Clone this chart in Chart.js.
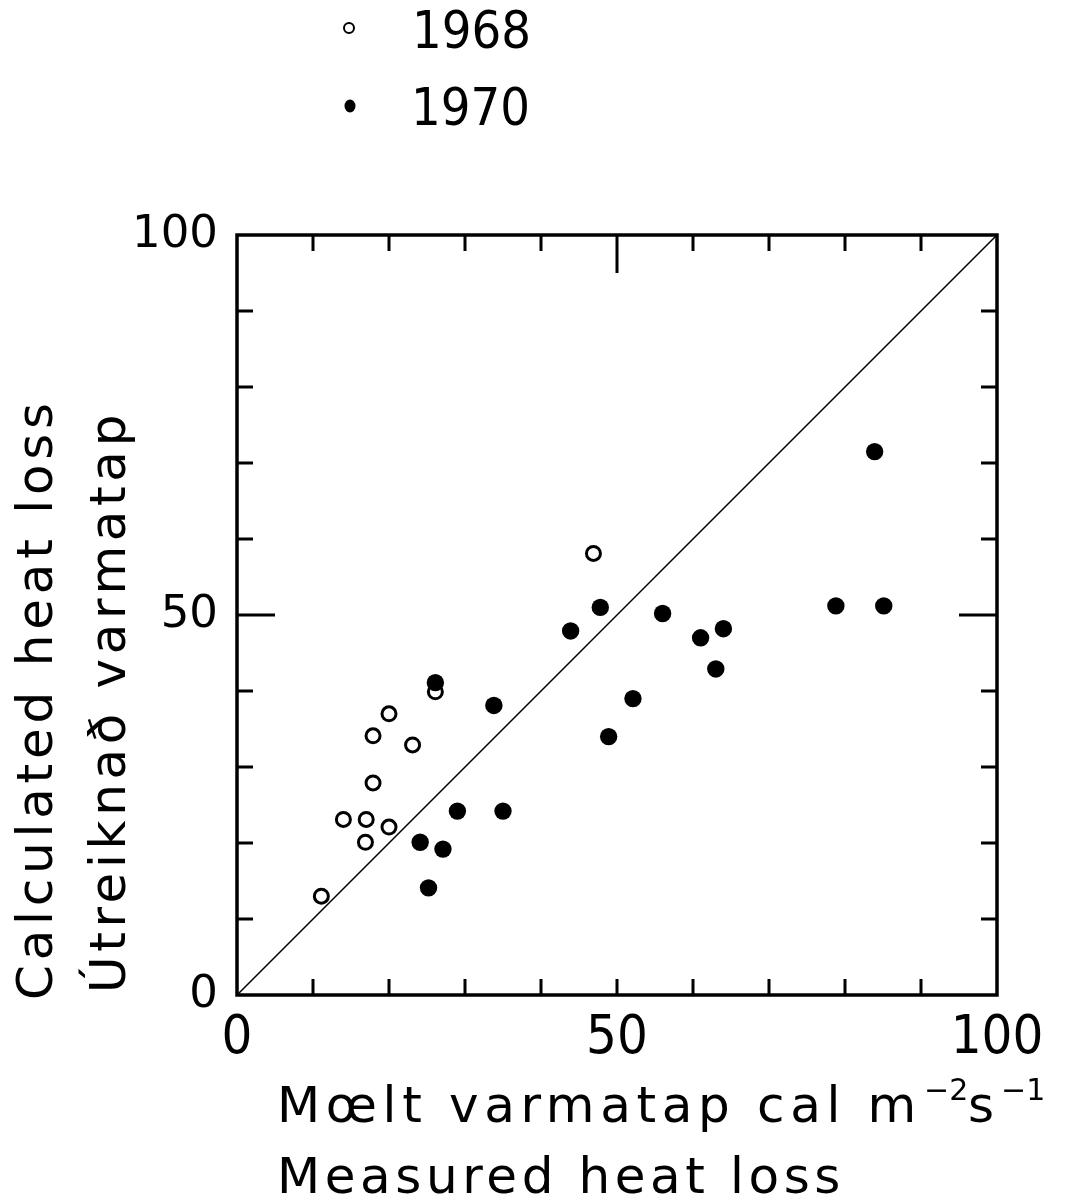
<!DOCTYPE html>
<html><head><meta charset="utf-8">
<script src="https://cdn.jsdelivr.net/npm/chart.js@4.4.1/dist/chart.umd.min.js"></script>
<style>html,body{margin:0;padding:0;background:#fff;} canvas{display:block;}</style>
</head><body>
<canvas id="c" width="1067" height="1203"></canvas>
<script>
// ---- data ----
const measured1968   = [11.1, 14.0, 17.0, 16.9, 20.0, 17.9, 17.9, 20.0, 23.1, 26.1, 46.9];
const calculated1968 = [13.0, 23.1, 23.1, 20.1, 22.1, 27.9, 34.1, 37.0, 32.9, 39.9, 58.1];
const measured1970   = [26.1, 33.8, 29.0, 35.0, 24.1, 27.1, 25.2, 47.8, 43.9, 56.0, 61.0, 64.0, 63.0, 52.1, 48.9, 83.9, 78.8, 85.1];
const calculated1970 = [41.1, 38.1, 24.2, 24.2, 20.1, 19.2, 14.1, 51.0, 47.9, 50.2, 47.0, 48.2, 42.9, 39.0, 34.0, 71.5, 51.2, 51.2];
const seriesNames = ['1968', '1970'];
const lineOfEquality = [0, 100];
const labelledTicks = [0, 50, 100];
const xTitleMain = ['Mœlt varmatap cal m', 'Measured heat loss'];
const xTitleSup = ['−2', 's', '−1'];
const yTitleLines = ['Calculated heat loss', 'Útreiknað varmatap'];

const SANS = "'DejaVu Sans', sans-serif";

function fitText(ctx, text, x, y, width) {
  ctx.letterSpacing = '0px';
  const w = ctx.measureText(text).width;
  const n = [...text].length;
  const ls = Math.max(0, (width - w) / n);
  ctx.letterSpacing = ls.toFixed(2) + 'px';
  ctx.fillText(text, x, y);
  ctx.letterSpacing = '0px';
}

const decor = {
  id: 'decor',
  afterDraw(chart) {
    const ctx = chart.ctx, a = chart.chartArea;
    const xs = chart.scales.x, ys = chart.scales.y;
    ctx.save();
    ctx.strokeStyle = '#000'; ctx.fillStyle = '#000';
    // frame
    ctx.lineWidth = 3.5;
    ctx.strokeRect(a.left, a.top, a.right - a.left, a.bottom - a.top);
    // inward tick marks on all four sides
    ctx.lineWidth = 3;
    const minor = 16, major = 38;
    xs.ticks.forEach(t => {
      if (t.value <= xs.min || t.value >= xs.max) return;
      const px = xs.getPixelForValue(t.value);
      const isMajor = t.value === 50;
      ctx.beginPath();
      ctx.moveTo(px, a.bottom); ctx.lineTo(px, a.bottom - minor);
      ctx.moveTo(px, a.top); ctx.lineTo(px, a.top + (isMajor ? major : minor));
      ctx.stroke();
    });
    ys.ticks.forEach(t => {
      if (t.value <= ys.min || t.value >= ys.max) return;
      const py = ys.getPixelForValue(t.value);
      const len = t.value === 50 ? major : minor;
      ctx.beginPath();
      ctx.moveTo(a.left, py); ctx.lineTo(a.left + len, py);
      ctx.moveTo(a.right, py); ctx.lineTo(a.right - len, py);
      ctx.stroke();
    });
    // legend
    const ds68 = chart.data.datasets[1], ds70 = chart.data.datasets[0];
    ctx.lineWidth = 2;
    ctx.fillStyle = ds68.backgroundColor;
    ctx.beginPath(); ctx.arc(349, 28, 5, 0, Math.PI * 2); ctx.fill(); ctx.stroke();
    ctx.fillStyle = ds70.backgroundColor;
    ctx.beginPath(); ctx.ellipse(350, 106, 5.5, 6.5, 0, 0, Math.PI * 2); ctx.fill();
    ctx.fillStyle = '#000';
    ctx.font = "condensed 52px 'DejaVu Sans', sans-serif";
    ctx.textBaseline = 'alphabetic'; ctx.textAlign = 'left';
    fitText(ctx, ds68.label, 412, 48, 113);
    fitText(ctx, ds70.label, 411, 125, 104);
    // x-axis title
    ctx.font = '50px ' + SANS;
    fitText(ctx, xTitleMain[0], 277, 1122, 645);
    fitText(ctx, xTitleMain[1], 277, 1193, 568);
    ctx.font = '30px ' + SANS;
    ctx.fillText(xTitleSup[0], 924, 1100);
    ctx.font = '50px ' + SANS;
    ctx.fillText(xTitleSup[1], 968, 1122);
    ctx.font = '30px ' + SANS;
    ctx.fillText(xTitleSup[2], 1001, 1100);
    // y-axis title (rotated)
    ctx.font = '50px ' + SANS;
    ctx.save(); ctx.translate(52, 1000); ctx.rotate(-Math.PI / 2);
    fitText(ctx, yTitleLines[0], 0, 0, 602); ctx.restore();
    ctx.save(); ctx.translate(125, 993); ctx.rotate(-Math.PI / 2);
    fitText(ctx, yTitleLines[1], 0, 0, 583); ctx.restore();
    ctx.restore();
  }
};

const tickCb = v => labelledTicks.includes(v) ? String(v) : '';

new Chart(document.getElementById('c'), {
  type: 'scatter',
  data: {
    datasets: [
      { label: seriesNames[1], data: measured1970.map((x, i) => ({ x, y: calculated1970[i] })),
        pointRadius: 8.7, pointHoverRadius: 8.7, backgroundColor: '#000', borderColor: '#000', borderWidth: 0, order: 0 },
      { label: seriesNames[0], data: measured1968.map((x, i) => ({ x, y: calculated1968[i] })),
        pointRadius: 7, pointHoverRadius: 7, backgroundColor: '#fff', borderColor: '#000', borderWidth: 3, order: 1 },
      { type: 'line', label: '1:1', data: lineOfEquality.map(v => ({ x: v, y: v })),
        borderColor: '#000', borderWidth: 1.5, pointRadius: 0, fill: false, order: 2 }
    ]
  },
  options: {
    responsive: false, animation: false, devicePixelRatio: 1,
    layout: { padding: { top: 235, right: 70, left: 0, bottom: 0 } },
    plugins: { legend: { display: false }, tooltip: { enabled: false } },
    scales: {
      x: {
        type: 'linear', min: 0, max: 100,
        ticks: { stepSize: 10, autoSkip: false, maxRotation: 0, callback: tickCb, padding: 12,
                 color: '#000', font: { family: SANS, size: 54, weight: 'normal condensed' } },
        grid: { display: false, drawTicks: false }, border: { display: false },
        afterFit: s => { s.height = 208; }
      },
      y: {
        type: 'linear', min: 0, max: 100,
        ticks: { stepSize: 10, autoSkip: false, callback: tickCb, padding: 19,
                 color: '#000', font: { family: SANS, size: 45 } },
        grid: { display: false, drawTicks: false }, border: { display: false },
        afterFit: s => { s.width = 237; }
      }
    }
  },
  plugins: [decor]
});
</script>
</body></html>
